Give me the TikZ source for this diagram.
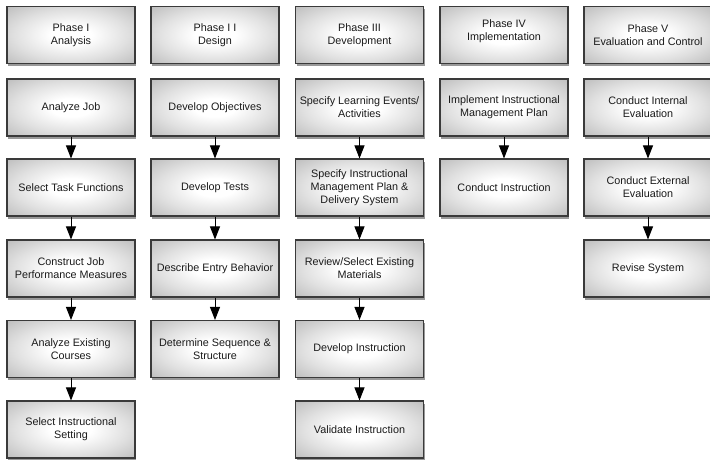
\documentclass[tikz,border=0pt]{standalone}
\usepackage{fontspec}
\setmainfont{Liberation Sans}
\usetikzlibrary{arrows.meta,shadows}
\definecolor{boxline}{HTML}{3A3A3A}
\definecolor{txt}{HTML}{1A1A1A}
\pgfdeclareradialshading{boxshade}{\pgfpoint{0bp}{0bp}}{%
  color(0bp)=(white);
  color(8bp)=(white);
  color(22bp)=(black!12);
  color(38bp)=(black!28);
  color(50bp)=(black!40)}
\tikzset{
  stepbox/.style={rectangle, draw=boxline, line width=1.1pt,
    minimum width=128pt, minimum height=57pt, inner sep=2pt,
    align=center, text=txt, font=\fontsize{10.8}{13}\selectfont,
    shading=boxshade,
    drop shadow={shadow xshift=1pt, shadow yshift=-2.5pt, opacity=0.4, fill=black}},
  flow/.style={line width=1pt, -{Triangle[width=10pt,length=13pt]}}
}
\begin{document}
\begin{tikzpicture}[x=1pt,y=-1pt]
\useasboundingbox (0,0) rectangle (710,460);
\fill[white] (0,0) rectangle (710,460);
% Phase headers
\node[stepbox] (p1) at (71,35) {Phase I\\Analysis};
\node[stepbox] (p2) at (215,35) {Phase I I\\Design};
\node[stepbox] (p3) at (359.5,35) {Phase III\\Development};
\node[stepbox, text depth=9pt] (p4) at (504,35) {Phase IV\\Implementation};
\node[stepbox] (p5) at (648,35) {Phase V\\Evaluation and Control};
% Column 1
\node[stepbox] (a1) at (71,107.5) {Analyze Job};
\node[stepbox] (a2) at (71,187.5) {Select Task Functions};
\node[stepbox] (a3) at (71,268.5) {Construct Job\\Performance Measures};
\node[stepbox] (a4) at (71,349) {Analyze Existing\\Courses};
\node[stepbox] (a5) at (71,429.5) {Select Instructional\\Setting};
% Column 2
\node[stepbox] (b1) at (215,107.5) {Develop Objectives};
\node[stepbox] (b2) at (215,187.5) {Develop Tests};
\node[stepbox] (b3) at (215,268.5) {Describe Entry Behavior};
\node[stepbox] (b4) at (215,349) {Determine Sequence \&\\Structure};
% Column 3
\node[stepbox] (c1) at (359.5,107.5) {Specify Learning Events/\\Activities};
\node[stepbox] (c2) at (359.5,187.5) {Specify Instructional\\Management Plan \&\\Delivery System};
\node[stepbox] (c3) at (359.5,268.5) {Review/Select Existing\\Materials};
\node[stepbox] (c4) at (359.5,349) {Develop Instruction};
\node[stepbox] (c5) at (359.5,429.5) {Validate Instruction};
% Column 4
\node[stepbox] (d1) at (504,107.5) {Implement Instructional\\Management Plan};
\node[stepbox] (d2) at (504,187.5) {Conduct Instruction};
% Column 5
\node[stepbox] (e1) at (648,107.5) {Conduct Internal\\Evaluation};
\node[stepbox] (e2) at (648,187.5) {Conduct External\\Evaluation};
\node[stepbox] (e3) at (648,268.5) {Revise System};
% Connectors
\draw[flow] (a1.south) -- (a2.north);
\draw[flow] (a2.south) -- (a3.north);
\draw[flow] (a3.south) -- (a4.north);
\draw[flow] (a4.south) -- (a5.north);
\draw[flow] (b1.south) -- (b2.north);
\draw[flow] (b2.south) -- (b3.north);
\draw[flow] (b3.south) -- (b4.north);
\draw[flow] (c1.south) -- (c2.north);
\draw[flow] (c2.south) -- (c3.north);
\draw[flow] (c3.south) -- (c4.north);
\draw[flow] (c4.south) -- (c5.north);
\draw[flow] (d1.south) -- (d2.north);
\draw[flow] (e1.south) -- (e2.north);
\draw[flow] (e2.south) -- (e3.north);
\end{tikzpicture}
\end{document}
